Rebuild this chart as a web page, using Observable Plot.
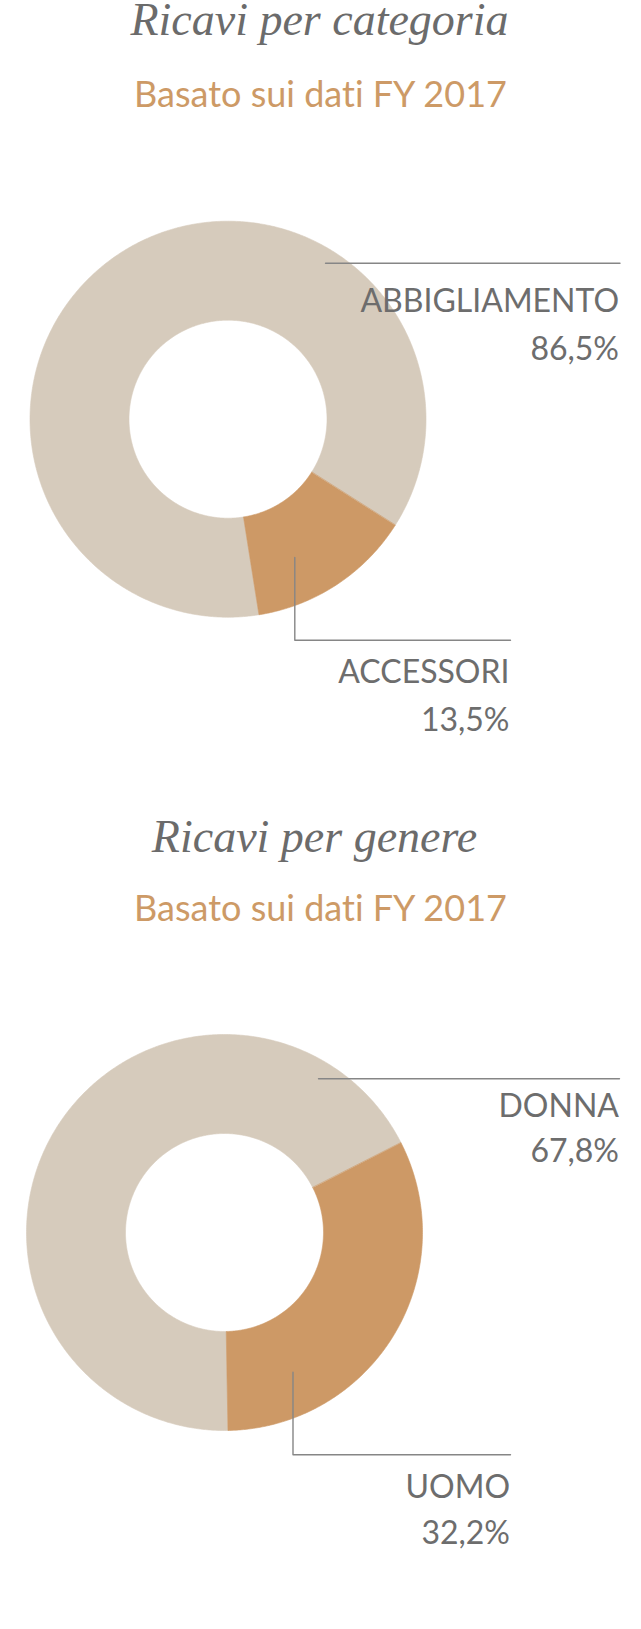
<!DOCTYPE html>
<html>
<head>
<meta charset="utf-8">
<script src="https://cdn.jsdelivr.net/npm/d3@7"></script>
<script src="https://cdn.jsdelivr.net/npm/@observablehq/plot@0.6"></script>
<style>
  html, body { margin: 0; padding: 0; background: #fff; }
  body { position: relative; width: 641px; height: 1629px; overflow: hidden; }
  .txt { position: absolute; left: 0; white-space: nowrap; text-align: center; margin: 0; font-variant-ligatures: none; }
  .ttl { font-family: "Liberation Serif", serif; font-style: italic; color: #6b6b6b; }
  .sub { font-family: Lato, sans-serif; color: #cd9a66; }
  .plot { position: absolute; left: 0; }
  svg text { font-variant-ligatures: none; }
</style>
</head>
<body>
<script>
// ---- data ----
const titles = ["Ricavi per categoria", "Ricavi per genere"];
const subtitles = ["Basato sui dati FY 2017", "Basato sui dati FY 2017"];
const categoryLabels = ["ABBIGLIAMENTO", "ACCESSORI"];
const categoryShares = [86.5, 13.5];
const genderLabels = ["DONNA", "UOMO"];
const genderShares = [67.8, 32.2];

// ---- styles ----
const sliceColors = ["#d6cbbc", "#cd9966"];
const textGray = "#6d6d6d";
const leaderGray = "#868686";

const it = d3.formatLocale({decimal: ",", thousands: ".", grouping: [3], currency: ["€", ""]});
const pct = v => it.format(".1f")(v) + "%";

// ---- layout (pixels) ----
const charts = [
  {
    labels: categoryLabels, values: categoryShares,
    title: {text: titles[0], cx: 319.5, baseline: 36},
    sub: {text: subtitles[0], cx: 320.5, baseline: 106.5},
    top: 130, height: 650, cx: 227.5, cy: 288.7, R: 198, hole: 0.5, start: 171,
    leaders: [[[97.5, -156], [392, -156]], [[66.8, 138.3], [66.8, 221], [282.5, 221]]],
    anchors: [{dx: 391, name: -107.7, pct: -59.7}, {dx: 281.5, name: 263.6, pct: 311.3}]
  },
  {
    labels: genderLabels, values: genderShares,
    title: {text: titles[1], cx: 314.5, baseline: 853.3},
    sub: {text: subtitles[1], cx: 320.5, baseline: 920.5},
    top: 940, height: 689, cx: 224, cy: 292, R: 198, hole: 0.5, start: 179,
    leaders: [[[94, -153.7], [395, -153.7]], [[68.5, 139.7], [68.5, 222.3], [286, 222.3]]],
    anchors: [{dx: 394.5, name: -116, pct: -70.3}, {dx: 285.5, name: 265.3, pct: 311.3}]
  }
];

// place a line of text so that its baseline lands at `baseline`
// lh: line-height as a multiple of size; half: (ascent - descent)/2 of the font
function placeText(cls, text, cx, baseline, size, lh, half) {
  const d = document.createElement("div");
  d.className = "txt " + cls;
  d.textContent = text;
  d.style.fontSize = size + "px";
  d.style.lineHeight = (lh * size) + "px";
  d.style.width = (2 * cx) + "px";
  d.style.top = (baseline - (lh / 2 + half) * size) + "px";
  document.body.appendChild(d);
}

for (const c of charts) {
  placeText("ttl", c.title.text, c.title.cx, c.title.baseline, 46, 0.8, 0.3375);
  placeText("sub", c.sub.text, c.sub.cx, c.sub.baseline, 36, 1, 0.387);

  const rad = Math.PI / 180;
  const a0 = c.start * rad;
  const arcs = d3.pie().sort(null).startAngle(a0).endAngle(a0 + 2 * Math.PI)(c.values);
  const pts = [];
  arcs.forEach((a, i) => {
    const key = c.labels[i];
    const n = Math.max(8, Math.ceil((a.endAngle - a.startAngle) / (0.5 * rad)));
    for (let j = 0; j <= n; j++) {
      const t = a.startAngle + (a.endAngle - a.startAngle) * j / n;
      pts.push({key, x: Math.sin(t), y: -Math.cos(t)});
    }
    for (let j = n; j >= 0; j--) {
      const t = a.startAngle + (a.endAngle - a.startAngle) * j / n;
      pts.push({key, x: c.hole * Math.sin(t), y: -c.hole * Math.cos(t)});
    }
  });

  const leaderPts = c.leaders.flatMap((l, i) => l.map(([dx, dy]) => ({id: i, x: dx / c.R, y: dy / c.R})));
  const nameRows = c.labels.map((l, i) => ({text: l, x: c.anchors[i].dx / c.R, y: c.anchors[i].name / c.R}));
  const pctRows = c.values.map((v, i) => ({text: pct(v), x: c.anchors[i].dx / c.R, y: c.anchors[i].pct / c.R}));

  const W = 641;
  const chart = Plot.plot({
    width: W, height: c.height, margin: 0,
    style: {background: "transparent", overflow: "visible"},
    x: {domain: [-c.cx / c.R, (W - c.cx) / c.R], range: [0, W], axis: null},
    y: {domain: [-c.cy / c.R, (c.height - c.cy) / c.R], range: [0, c.height], axis: null},
    color: {domain: c.labels, range: sliceColors},
    marks: [
      Plot.line(pts, {x: "x", y: "y", z: "key", fill: "key", stroke: "key", strokeWidth: 0.6, curve: "linear-closed"}),
      Plot.line(leaderPts, {x: "x", y: "y", z: "id", stroke: leaderGray, strokeWidth: 1.4}),
      Plot.text(nameRows, {x: "x", y: "y", text: "text", textAnchor: "end", lineAnchor: "bottom", fontSize: 32, fontFamily: "Lato", fill: textGray}),
      Plot.text(pctRows, {x: "x", y: "y", text: "text", textAnchor: "end", lineAnchor: "bottom", fontSize: 32, fontFamily: "Lato", fill: textGray})
    ]
  });
  chart.classList.add("plot");
  chart.style.top = c.top + "px";
  chart.style.position = "absolute";
  document.body.appendChild(chart);
}
</script>
</body>
</html>
